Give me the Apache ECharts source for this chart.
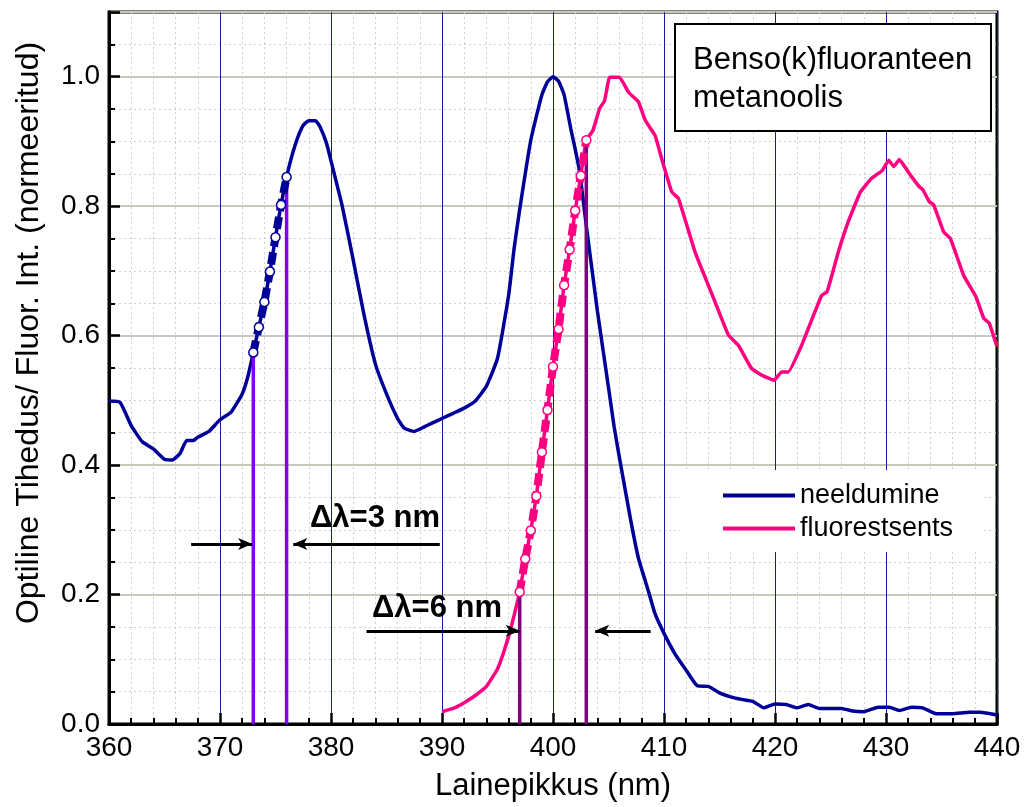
<!DOCTYPE html>
<html>
<head>
<meta charset="UTF-8">
<title>Benso(k)fluoranteen</title>
<script src="https://cdn.jsdelivr.net/npm/echarts@6/dist/echarts.min.js"></script>
<style>
  html, body { margin: 0; padding: 0; background: #fff; }
  #chart { width: 1026px; height: 807px; }
</style>
</head>
<body>
<div id="chart"></div>
<script type="text/javascript">
// neeldumine (absorption)
var absX = [360, 361, 362, 363, 364, 365, 365.7, 366.4, 367, 367.6, 368, 369, 370, 371, 372, 372.5,
    373, 373.5, 374, 374.5, 375, 375.5, 376, 376.5, 377, 377.5, 378, 378.6, 379, 379.6, 380,
    381, 382, 383, 384, 385, 386, 386.6, 387.5, 388.4, 389, 390, 391, 392, 393, 394, 395, 396,
    396.5, 397, 398, 399, 399.5, 400, 400.5, 401, 401.6, 402, 402.4, 403, 404, 405, 405.5, 406,
    407, 407.7, 408.6, 409.2, 410, 411, 412, 413, 414, 415, 416, 417, 418, 419, 420, 421, 422,
    423, 424, 426, 427, 428, 429.3, 430.3, 431.2, 432.3, 433.3, 434.5, 436, 437.5, 438.5, 440];
var absY = [0.499, 0.497, 0.461, 0.436, 0.425, 0.409, 0.408, 0.418, 0.438, 0.438, 0.443, 0.452, 0.470, 0.482, 0.510, 0.536,
    0.574, 0.613, 0.652, 0.699, 0.752, 0.802, 0.845, 0.879, 0.906, 0.925, 0.932, 0.932, 0.923, 0.897, 0.870,
    0.801, 0.717, 0.630, 0.556, 0.510, 0.472, 0.457, 0.452, 0.459, 0.464, 0.472, 0.480, 0.488, 0.499, 0.522, 0.565, 0.662,
    0.735, 0.795, 0.902, 0.972, 0.992, 1.000, 0.993, 0.972, 0.920, 0.888, 0.853, 0.770, 0.638, 0.520, 0.460, 0.410,
    0.315, 0.256, 0.205, 0.170, 0.140, 0.108, 0.083, 0.059, 0.058, 0.048, 0.042, 0.038, 0.035, 0.025, 0.031, 0.030, 0.025,
    0.030, 0.024, 0.024, 0.020, 0.019, 0.026, 0.026, 0.021, 0.026, 0.025, 0.016, 0.016, 0.018, 0.018, 0.014];

// fluorestsents
var flX = [390, 391, 392, 393, 394, 395, 395.5, 396, 396.5, 397, 397.5, 398, 398.5, 399, 399.5, 400,
    400.5, 401, 401.5, 402, 402.5, 403, 403.6, 404.2, 404.65, 405.1, 406, 406.8, 407.7, 408.3, 409.2,
    409.8, 410.7, 411.3, 412.8, 414.6, 415.8, 416.7, 417.9, 418.8, 419.9, 420.6, 421.2, 422.4, 423.6,
    424.2, 424.7, 425.7, 426.6, 427.7, 428.7, 429.65, 430.25, 430.7, 431.2, 432.2, 433, 433.3, 433.9,
    434.3, 435.2, 435.8, 437, 438.1, 438.8, 439.3, 440];
var flY = [0.019, 0.024, 0.033, 0.044, 0.058, 0.085, 0.108, 0.135, 0.168, 0.204, 0.255, 0.299, 0.352, 0.420, 0.485, 0.552,
    0.610, 0.678, 0.733, 0.793, 0.847, 0.902, 0.917, 0.951, 0.963, 0.999, 0.999, 0.976, 0.961, 0.933, 0.909,
    0.873, 0.822, 0.812, 0.729, 0.652, 0.601, 0.585, 0.549, 0.539, 0.531, 0.544, 0.544, 0.585, 0.637,
    0.662, 0.668, 0.729, 0.776, 0.822, 0.843, 0.855, 0.871, 0.861, 0.872, 0.848, 0.830, 0.826, 0.807,
    0.802, 0.760, 0.750, 0.693, 0.660, 0.627, 0.619, 0.583];

// dashed segments with circle markers
var absMarkX = [373, 373.5, 374, 374.5, 375, 375.5, 376];
var absMarkY = [0.574, 0.613, 0.652, 0.699, 0.752, 0.802, 0.845];
var flMarkX = [397, 397.5, 398, 398.5, 399, 399.5, 400, 400.5, 401, 401.5, 402, 402.5, 403];
var flMarkY = [0.204, 0.255, 0.299, 0.352, 0.420, 0.485, 0.552, 0.610, 0.678, 0.733, 0.793, 0.847, 0.902];

// vertical drop lines
var vlineX = [373, 376, 397, 403];
var vlineTop = [0.574, 0.845, 0.204, 0.902];
var vlineColor = ['#8000ff', '#8000ff', '#800080', '#800080'];

// arrows (from -> to)
var arrowFrom = [[367.4, 0.278], [389.8, 0.278], [383.2, 0.144], [408.8, 0.144]];
var arrowTo = [[372.9, 0.278], [376.6, 0.278], [397.0, 0.144], [403.8, 0.144]];

var xTicks = [360, 370, 380, 390, 400, 410, 420, 430, 440];
var yTicks = ['0.0', '0.2', '0.4', '0.6', '0.8', '1.0'];

var FONT = 'Liberation Sans, Arial, sans-serif';

function pairs(xs, ys) {
    var res = [];
    for (var i = 0; i < xs.length; i++) res.push([xs[i], ys[i]]);
    return res;
}

var chart = echarts.init(document.getElementById('chart'));

var series = [
    {
        name: 'neeldumine', type: 'line', data: pairs(absX, absY), smooth: 0.15,
        symbol: 'none', color: '#000099', lineStyle: {width: 3.5, color: '#000099'}, z: 3
    },
    {
        name: 'fluorestsents', type: 'line', data: pairs(flX, flY), smooth: 0.1,
        symbol: 'none', color: '#ff0080', lineStyle: {width: 3.5, color: '#ff0080'}, z: 3,
        markLine: {
            silent: true, animation: false,
            symbol: ['none', 'arrow'], symbolSize: [9, 14],
            label: {show: false},
            lineStyle: {color: '#000', width: 3, type: 'solid'},
            emphasis: {disabled: true},
            data: arrowFrom.map(function (f, i) {
                return [{coord: f}, {coord: arrowTo[i]}];
            })
        }
    }
];

for (var i = 0; i < vlineX.length; i++) {
    series.push({
        name: 'v' + i, type: 'line', data: [[vlineX[i], 0], [vlineX[i], vlineTop[i]]],
        symbol: 'none', lineStyle: {width: 3.5, color: vlineColor[i]}, z: 4
    });
}

series.push({
    name: 'absDash', type: 'line', data: pairs(absMarkX, absMarkY),
    symbol: 'circle', symbolSize: 9, showAllSymbol: true,
    lineStyle: {width: 8, color: '#000099', type: [12, 6]},
    itemStyle: {color: '#fff', borderColor: '#000099', borderWidth: 1.5}, z: 5
});
series.push({
    name: 'flDash', type: 'line', data: pairs(flMarkX, flMarkY),
    symbol: 'circle', symbolSize: 9, showAllSymbol: true,
    lineStyle: {width: 8, color: '#ff0080', type: [12, 6]},
    itemStyle: {color: '#fff', borderColor: '#ff0080', borderWidth: 1.5}, z: 5
});

chart.setOption({
    animation: false,
    textStyle: {fontFamily: FONT},
    grid: {
        left: 109, right: 29, top: 12, bottom: 81,
        show: true, borderColor: '#000', borderWidth: 3, backgroundColor: '#fff'
    },
    legend: {
        data: ['neeldumine', 'fluorestsents'],
        orient: 'vertical', left: 680, top: 470,
        padding: [12, 30, 10, 43], itemGap: 6,
        itemWidth: 72, itemHeight: 4, icon: 'rect', itemTextGap: 8,
        backgroundColor: '#fff',
        textStyle: {fontSize: 27, color: '#000', fontFamily: FONT}
    },
    xAxis: {
        type: 'value', min: 360, max: 440, interval: 10,
        name: 'Lainepikkus (nm)', nameLocation: 'middle', nameGap: 47,
        nameTextStyle: {fontSize: 31, color: '#000', fontFamily: FONT},
        axisLine: {lineStyle: {color: '#000', width: 3}},
        axisTick: {inside: true, length: 11, lineStyle: {color: '#000', width: 2.5}},
        minorTick: {show: true, splitNumber: 5, length: 6, lineStyle: {color: '#000', width: 2}},
        axisLabel: {
            fontSize: 28, color: '#000', margin: 10, fontFamily: FONT,
            formatter: function (v) { return xTicks.indexOf(v) >= 0 ? String(v) : ''; }
        },
        splitLine: {show: true, lineStyle: {color: '#1a1a99', width: 1}},
        minorSplitLine: {show: true, lineStyle: {color: '#cfcfcf', width: 1, type: [2, 3]}}
    },
    yAxis: {
        type: 'value', min: 0, max: 1.1, interval: 0.2,
        axisLine: {show: true, lineStyle: {color: '#000', width: 3}},
        axisTick: {show: true, inside: true, length: 11, lineStyle: {color: '#000', width: 2.5}},
        minorTick: {show: true, splitNumber: 4, length: 6, lineStyle: {color: '#000', width: 2}},
        axisLabel: {
            fontSize: 28, color: '#000', margin: 9, fontFamily: FONT,
            formatter: function (v) {
                var s = v.toFixed(1);
                return yTicks.indexOf(s) >= 0 && v <= 1.0001 ? s : '';
            }
        },
        splitLine: {show: true, lineStyle: {color: '#c6c9bb', width: 2}},
        minorSplitLine: {show: true, lineStyle: {color: '#cfcfcf', width: 1, type: [2, 3]}}
    },
    graphic: [
        {
            type: 'text', x: 29, y: 333, rotation: Math.PI / 2,
            style: {
                text: 'Optiline Tihedus/ Fluor. Int. (normeeritud)',
                font: '32px ' + FONT, fill: '#000', align: 'center', verticalAlign: 'middle'
            }
        },
        {
            type: 'rect', shape: {x: 675, y: 24, width: 316, height: 107}, z: 100,
            style: {fill: '#fff', stroke: '#000', lineWidth: 2}
        },
        {
            type: 'text', x: 693, y: 41, z: 101,
            style: {
                text: 'Benso(k)fluoranteen\nmetanoolis', font: '31px ' + FONT,
                lineHeight: 38, fill: '#000', align: 'left', verticalAlign: 'top'
            }
        },
        {
            type: 'text', x: 310, y: 518, z: 101,
            style: {text: 'Δλ=3 nm', font: 'bold 31px ' + FONT, fill: '#000', verticalAlign: 'middle'}
        },
        {
            type: 'text', x: 372, y: 608, z: 101,
            style: {text: 'Δλ=6 nm', font: 'bold 31px ' + FONT, fill: '#000', verticalAlign: 'middle'}
        }
    ],
    series: series
});
</script>
</body>
</html>
